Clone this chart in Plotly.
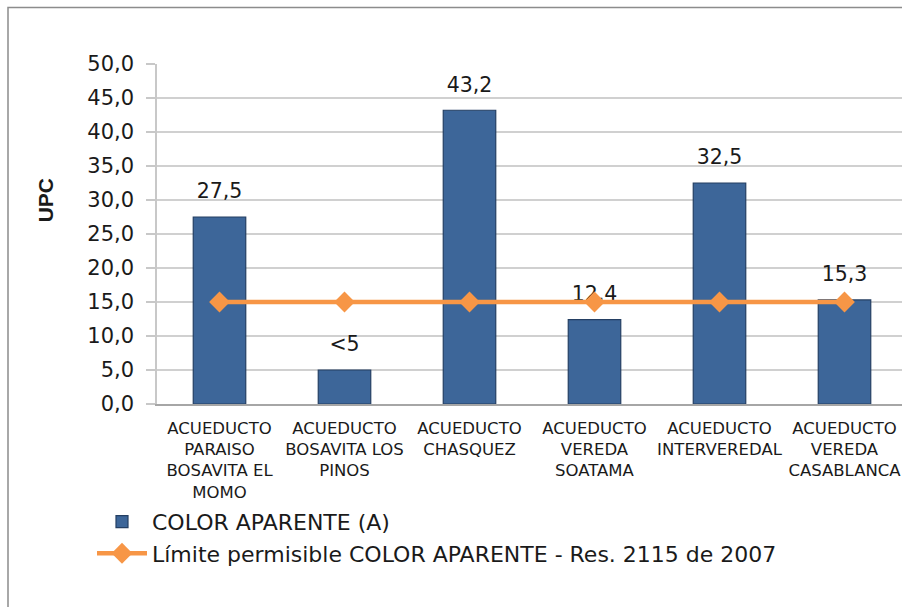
import plotly.graph_objects as go

categories = [
    "ACUEDUCTO<br>PARAISO<br>BOSAVITA EL<br>MOMO",
    "ACUEDUCTO<br>BOSAVITA LOS<br>PINOS",
    "ACUEDUCTO<br>CHASQUEZ",
    "ACUEDUCTO<br>VEREDA<br>SOATAMA",
    "ACUEDUCTO<br>INTERVEREDAL",
    "ACUEDUCTO<br>VEREDA<br>CASABLANCA",
]
color_values = [27.5, 5.0, 43.2, 12.4, 32.5, 15.3]
value_labels = ["27,5", "<5", "43,2", "12,4", "32,5", "15,3"]
limit_values = [15, 15, 15, 15, 15, 15]
y_ticks = [0, 5, 10, 15, 20, 25, 30, 35, 40, 45, 50]

W, H = 902, 607
L, R, T, B = 157, 0, 63.5, 203
pw = W - L - R
ph = H - T - B

FONT = "DejaVu Sans"

fig = go.Figure()
fig.add_trace(go.Bar(
    x=categories, y=color_values, name="COLOR APARENTE (A)",
    width=0.42,
    marker=dict(color="#3D6699", line=dict(color="#243F63", width=1.2)),
    hoverinfo="skip",
))
fig.add_trace(go.Scatter(
    x=categories, y=color_values, mode="markers+text", text=value_labels,
    textposition="top center",
    textfont=dict(family=FONT, size=20.5, color="#1a1a1a"),
    marker=dict(size=20, opacity=0),
    showlegend=False, hoverinfo="skip",
))
fig.add_trace(go.Scatter(
    x=categories, y=limit_values, mode="lines+markers",
    name="Límite permisible COLOR APARENTE - Res. 2115 de 2007",
    line=dict(color="#F79646", width=4.5),
    marker=dict(symbol="diamond", size=16, color="#F79646"),
    hoverinfo="skip",
))

fig.update_layout(
    width=W, height=H,
    margin=dict(l=L, r=R, t=T, b=B, pad=0),
    paper_bgcolor="white", plot_bgcolor="white",
    separators=",.",
    font=dict(family=FONT, color="#1a1a1a"),
    showlegend=True,
    legend=dict(
        x=(92 - L) / pw, y=(404 - 501) / ph, xanchor="left", yanchor="top",
        font=dict(family=FONT, size=22, color="#1a1a1a"),
        bgcolor="rgba(0,0,0,0)", itemwidth=50, tracegroupgap=0,
    ),
    xaxis=dict(
        range=[-0.5, -0.5 + pw / 125.0],
        showgrid=False, showline=True, linecolor="#A6A6A6", linewidth=1.5,
        ticks="", tickfont=dict(family=FONT, size=16.5, color="#1a1a1a"),
        tickangle=0, automargin=False, ticklabelstandoff=8,
    ),
    yaxis=dict(
        range=[0, 50], tickvals=y_ticks, tickformat=".1f",
        showgrid=True, gridcolor="#D0D0D0", gridwidth=1.5,
        showline=True, linecolor="#C8C8C8", linewidth=1.5,
        ticks="outside", ticklen=9, tickcolor="#C8C8C8", tickwidth=1.5,
        tickfont=dict(family=FONT, size=21, color="#1a1a1a"),
        zeroline=False, automargin=False, ticklabelstandoff=8,
    ),
    annotations=[dict(
        text="<b>UPC</b>", x=(45 - L) / pw, y=(404 - 200) / ph,
        xref="paper", yref="paper", showarrow=False, textangle=-90,
        xanchor="center", yanchor="middle",
        font=dict(family="Liberation Sans", size=21, color="#1a1a1a"),
    )],
    shapes=[dict(
        type="rect", xref="paper", yref="paper",
        x0=(8 - L) / pw, x1=1.2, y0=-1.0, y1=(404 - 7) / ph,
        line=dict(color="#8C8C8C", width=1.5), fillcolor="rgba(0,0,0,0)",
        layer="below",
    )],
)

fig.write_html(
    "out.html",
    config={"displayModeBar": False},
    post_script="document.body.style.margin='0';document.body.style.overflow='hidden';",
)
